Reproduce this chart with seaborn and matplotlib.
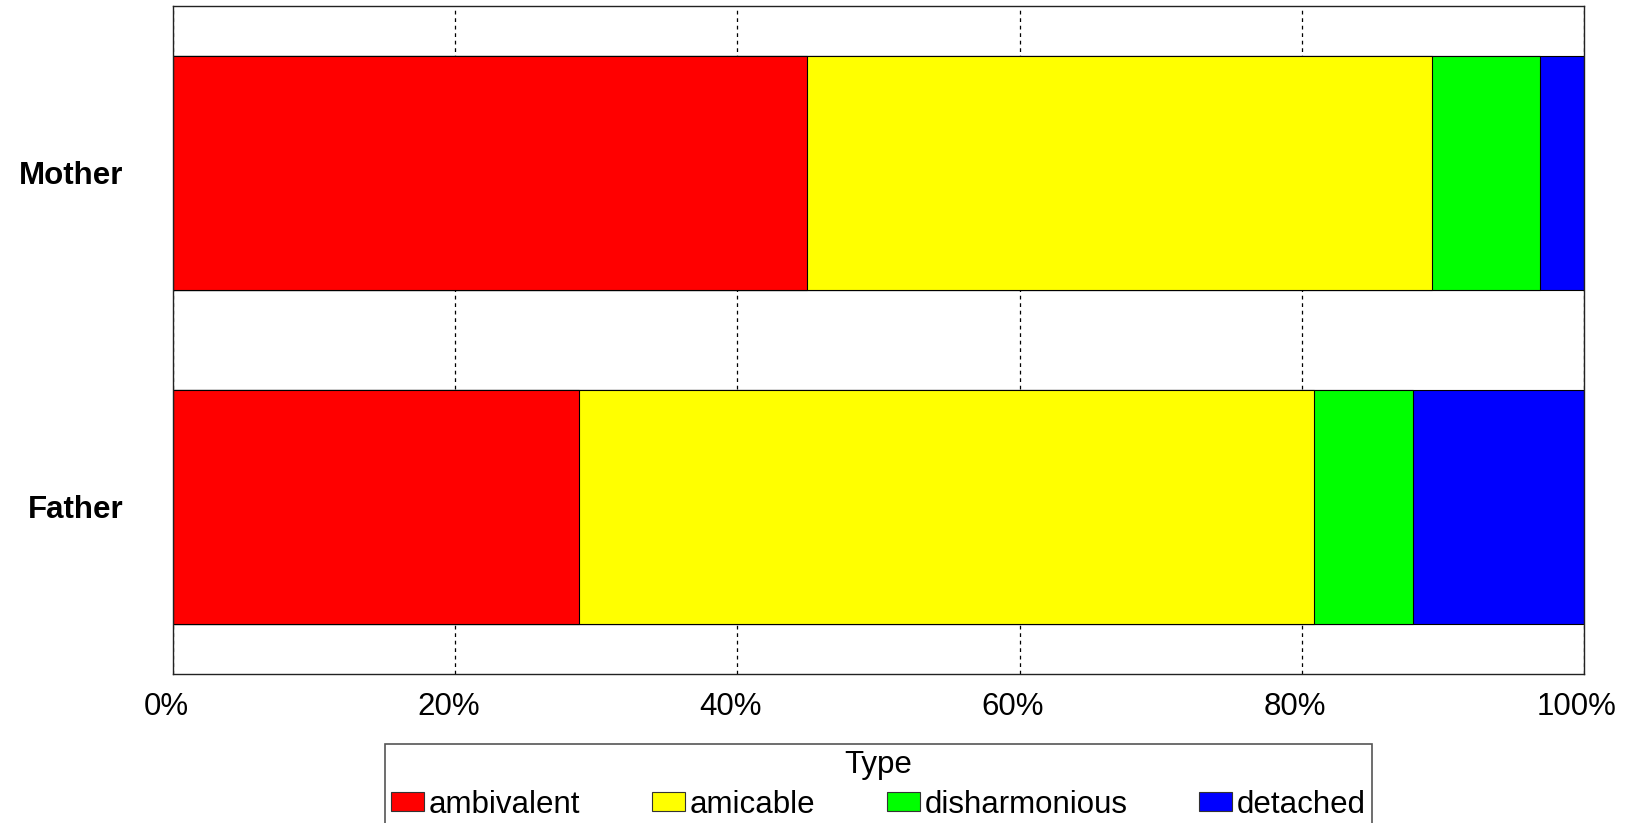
import numpy as np
import pandas as pd
import matplotlib
matplotlib.use("Agg")
import matplotlib.pyplot as plt
import matplotlib.transforms as mtransforms
from matplotlib.patches import Patch
import seaborn as sns

# ---- data (percent of each parent) ----
parents = ["Mother", "Father"]
types = ["ambivalent", "amicable", "disharmonious", "detached"]
ambivalent = [44.9, 28.8]
amicable = [44.3, 52.1]
disharmonious = [7.7, 7.0]
detached = [3.1, 12.1]
type_colors = ["#FF0000", "#FFFF00", "#00FF00", "#0000FF"]
xtick_values = [0, 20, 40, 60, 80, 100]
xtick_labels = ["0%", "20%", "40%", "60%", "80%", "100%"]

df = pd.DataFrame({"parent": parents, "ambivalent": ambivalent, "amicable": amicable,
                   "disharmonious": disharmonious, "detached": detached})
cum = df[types].cumsum(axis=1)
cum["parent"] = df["parent"]

sns.set_style("white")
plt.rcParams["font.family"] = ["Liberation Sans", "DejaVu Sans"]
plt.rcParams["text.color"] = "black"
plt.rcParams["xtick.color"] = "black"
plt.rcParams["ytick.color"] = "black"
plt.rcParams["xtick.labelcolor"] = "black"
plt.rcParams["ytick.labelcolor"] = "black"

fig = plt.figure(figsize=(16.32, 8.23), dpi=100)
ax = fig.add_axes([173 / 1632, 1 - 674 / 823, (1584 - 173) / 1632, (674 - 6) / 823])

# layered bars: draw the largest cumulative first so the stack appears
for t, c in reversed(list(zip(types, type_colors))):
    sns.barplot(data=cum, x=t, y="parent", order=parents, color=c, orient="h",
                width=0.7, edgecolor="black", linewidth=0.8, saturation=1, ax=ax)

ax.set_xlim(0, 100)
ax.set_ylim(1.5, -0.5)
ax.set_xticks(xtick_values)
ax.set_xticklabels(xtick_labels, fontsize=22.5, color="black")
ax.set_yticks(range(len(parents)))
ax.set_yticklabels(parents, fontsize=22.5, fontweight="bold", color="black")
ax.set_xlabel("")
ax.set_ylabel("")
ax.tick_params(axis="x", length=0, pad=13)
ax.tick_params(axis="y", length=0, pad=36)
shift = mtransforms.ScaledTranslation(-7 / 100, 0, fig.dpi_scale_trans)
for lab in ax.get_xticklabels():
    lab.set_transform(lab.get_transform() + shift)

ax.set_axisbelow(True)
ax.xaxis.grid(True, color="black", linestyle=(0, (3, 3)), linewidth=0.9)
ax.yaxis.grid(False)
for s in ax.spines.values():
    s.set_visible(True)
    s.set_color("#222222")
    s.set_linewidth(1.0)

handles = [Patch(facecolor=c, edgecolor="#333333", linewidth=0.8, label=t)
           for t, c in zip(types, type_colors)]
leg = ax.legend(handles=handles, title="Type", loc="upper center",
                bbox_to_anchor=(0.5, -0.1048), ncol=4, fontsize=22.5,
                title_fontsize=22.5, frameon=True, fancybox=False,
                edgecolor="#555555", framealpha=1, borderpad=0.2,
                handlelength=1.05, handleheight=0.55, handletextpad=0.15,
                columnspacing=2.3, labelspacing=0.3, borderaxespad=0)
leg.get_frame().set_linewidth(1.2)
for txt in leg.get_texts():
    txt.set_color("black")
leg.get_title().set_color("black")

fig.savefig("out.png", dpi=100)
